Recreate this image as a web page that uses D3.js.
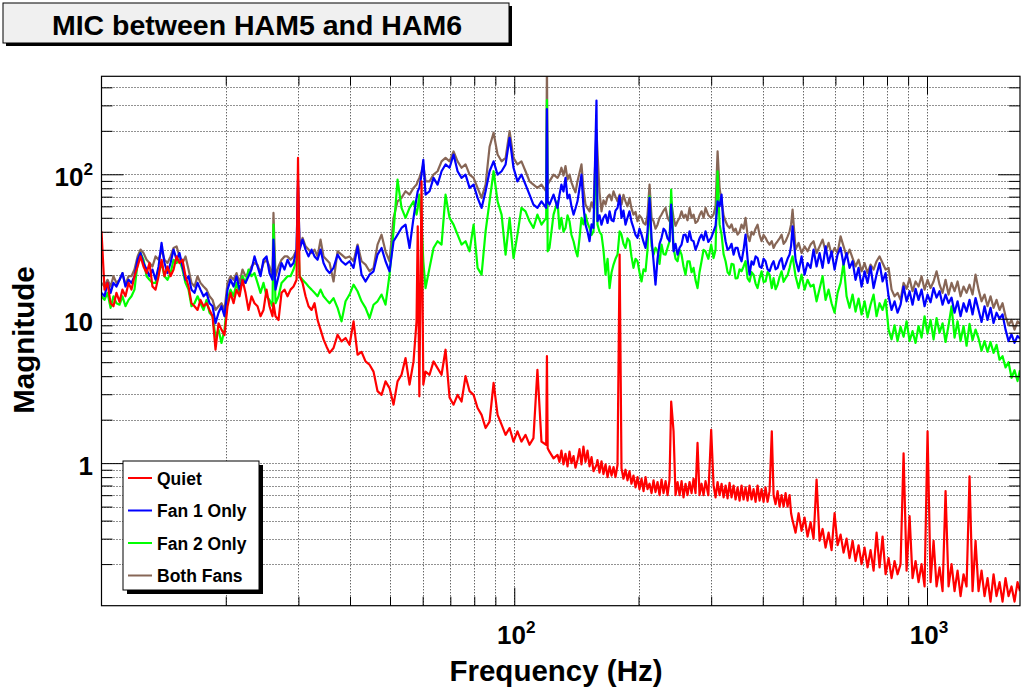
<!DOCTYPE html>
<html>
<head>
<meta charset="utf-8">
<script src="https://cdn.jsdelivr.net/npm/d3@7"></script>
<style>
  html, body { margin: 0; padding: 0; background: #ffffff; }
  svg { display: block; }
  text { font-family: "Liberation Sans", Arial, Helvetica, sans-serif; font-weight: bold; fill: #000; }
</style>
</head>
<body>
<svg id="chart" width="1021" height="694"></svg>
<script>
// Frequency bins (Hz) shared by all four spectra
const freqHz = [
  // 10 - 36 Hz
  10.00, 10.17, 10.34, 10.52, 10.69, 10.87, 11.06, 11.24, 11.43, 11.63, 11.82, 12.02, 12.23, 12.43, 12.64, 12.86,
  13.07, 13.29, 13.52, 13.75, 13.98, 14.21, 14.45, 14.70, 14.95, 15.20, 15.45, 15.71, 15.98, 16.25, 16.52, 16.80,
  17.09, 17.37, 17.67, 17.97, 18.27, 18.58, 18.89, 19.21, 19.53, 19.86, 20.20, 20.54, 20.89, 21.24, 21.60, 21.96,
  22.33, 22.71, 23.09, 23.48, 23.88, 24.28, 24.69, 25.11, 25.53, 25.96, 26.10, 26.40, 26.85, 27.30, 27.76, 28.23,
  28.71, 29.19, 29.69, 29.93, 30.19, 30.70, 31.22, 31.74, 32.28, 32.82, 33.38, 33.94, 34.51, 35.10, 35.69,
  // 36 - 128 Hz
  36.49, 37.32, 38.16, 39.02, 39.90, 40.80, 41.72, 42.66, 43.62, 44.61, 45.61, 46.64, 47.70, 48.77, 49.87, 51.00,
  52.15, 53.32, 54.53, 55.76, 57.01, 57.98, 58.37, 58.89, 59.62, 60.21, 60.96, 62.34, 63.75, 65.19, 66.66, 68.16,
  69.70, 71.28, 72.89, 74.53, 76.21, 77.94, 79.70, 81.50, 83.34, 85.22, 87.14, 89.11, 91.12, 93.18, 95.28, 97.43,
  99.59, 101.8, 104.1, 106.5, 108.9, 111.3, 113.8, 116.4, 119.5, 120.0, 120.5, 121.7, 124.5, 127.3,
  // 128 - 469 Hz
  128.7, 130.1, 131.6, 133.1, 134.6, 136.1, 137.6, 139.2, 140.7, 142.3,
  143.9, 145.5, 147.1, 148.8, 150.5, 152.2, 153.9, 155.6, 158.2, 159.1,
  160.9, 162.7, 164.5, 166.4, 168.3, 170.2, 172.1, 174.0, 175.9, 177.9,
  180.0, 181.9, 183.9, 186.0, 188.1, 190.2, 192.3, 194.5, 196.7, 198.9,
  201.1, 203.4, 205.7, 208.0, 210.3, 212.7, 215.1, 217.5, 219.9, 222.4,
  224.9, 227.4, 230.0, 232.6, 235.2, 237.8, 240.0, 243.2, 245.9, 248.7,
  251.5, 254.3, 257.1, 260.0, 262.9, 265.9, 268.9, 271.9, 274.9, 278.0,
  281.1, 284.3, 287.5, 290.7, 295.3, 300.0, 304.0, 307.4, 310.9, 314.4,
  317.9, 321.5, 325.1, 328.7, 332.4, 336.1, 339.9, 343.7, 347.6, 351.5,
  355.4, 359.4, 363.4, 367.5, 371.6, 375.8, 380.0, 384.3, 388.6, 393.0,
  397.4, 401.8, 406.3, 410.9, 415.5, 420.7, 424.9, 429.7, 434.5, 439.4,
  444.3, 449.3, 454.3, 459.4, 464.6, 468.5,
  // 472 - 1680 Hz
  472.4, 480.4, 488.5, 496.7, 505.1, 513.6, 522.3, 531.1, 540.1, 549.2, 558.5, 567.9, 577.5, 587.2, 597.1, 607.2,
  617.5, 627.9, 638.5, 649.2, 660.2, 671.3, 682.7, 694.2, 705.9, 717.8, 729.9, 742.3, 754.8, 767.5, 780.5, 793.7,
  807.1, 820.7, 834.5, 848.6, 862.9, 877.5, 892.3, 907.3, 922.6, 938.2, 954.0, 970.1, 986.5, 1003.1, 1020.1, 1037.3,
  1054.8, 1072.6, 1090.7, 1109.1, 1127.8, 1146.8, 1166.2, 1185.9, 1205.9, 1226.2, 1246.9, 1267.9, 1289.3, 1311.1,
  1333.2, 1355.7, 1378.5, 1401.8, 1425.4, 1449.5, 1473.9, 1498.8, 1524.1, 1549.8, 1575.9, 1602.5, 1629.5, 1657.0, 1680.0
];

// Magnitude, both fans off
const quiet = [
  40.3, 15.9, 17.7, 12.8, 12.2, 15.1, 13.1, 15.9, 14.3, 17.7, 15.9, 19.7, 23.0, 27.0, 23.0, 20.7,
  24.3, 16.7, 15.9, 19.7, 25.6, 19.7, 23.0, 19.7, 21.9, 27.0, 24.3, 25.6, 19.7, 16.7, 12.8, 12.2,
  11.5, 13.5, 12.2, 12.8, 11.5, 10.4, 6.1, 9.3, 8.4, 7.7, 12.2, 15.1, 12.8, 15.9, 14.3, 18.6,
  15.1, 11.5, 14.3, 12.8, 12.2, 10.4, 11.5, 15.9, 12.2, 10.4, 12.8, 10.4, 9.8, 15.1, 15.9, 14.3,
  15.9, 16.7, 18.6, 130, 19.7, 17.7, 14.3, 12.2, 11.5, 12.8, 9.8, 8.4, 7.2, 6.4, 5.8,
  6.27, 7.75, 6.96, 7.35, 6.6, 9.58, 5.63, 5.9, 5.06, 4.8, 4.3, 3.15, 2.97, 3.68, 3.31, 2.54,
  3.68, 4.09, 5.34, 3.5, 5.06, 9.58, 43.6, 2.90, 89.4, 3.5, 4.3, 4.09, 5.06, 4.55, 4.09, 6.10,
  2.85, 2.54, 2.97, 2.67, 4.0, 3.15, 2.97, 2.41, 2.16, 1.75, 1.94, 3.6, 2.16, 1.85, 1.57, 1.75,
  1.41, 1.66, 1.41, 1.57, 1.34, 1.49, 4.43, 1.41, 1.34, 5.5, 1.27, 1.2, 1.08, 1.14,
  1.02, 1.22, 0.98, 1.16, 0.95, 1.2, 1.0, 1.12, 0.93, 1.05,
  1.25, 0.98, 1.3, 1.02, 1.22, 0.95, 1.1, 0.88, 0.97, 1.05,
  0.86, 1.03, 0.84, 0.98, 0.8, 0.95, 0.82, 0.94, 0.8, 0.97,
  27.8, 0.92, 0.78, 0.9, 0.76, 0.88, 0.72, 0.82, 0.68, 0.8,
  0.66, 0.78, 0.64, 0.8, 0.66, 0.72, 0.62, 0.76, 0.63, 0.74,
  0.6, 0.77, 0.62, 0.75, 0.6, 0.77, 2.67, 1.66, 0.6, 0.74,
  0.6, 0.75, 0.58, 0.72, 0.6, 0.74, 0.62, 0.78, 0.62, 1.38,
  0.6, 0.72, 0.6, 0.75, 0.6, 1.7, 0.7, 0.58, 0.74, 0.6,
  0.72, 0.58, 0.7, 0.57, 0.73, 0.58, 0.7, 0.56, 0.68, 0.55,
  0.7, 0.56, 0.68, 0.55, 0.7, 0.56, 0.66, 0.54, 0.7, 0.55,
  0.66, 0.54, 0.68, 0.54, 0.64, 1.66, 0.6, 0.52, 0.64, 0.5,
  0.6, 0.5, 0.62, 0.5, 0.6, 0.45,
  0.40, 0.33, 0.45, 0.34, 0.42, 0.31, 0.39, 0.30, 0.77, 0.29, 0.35, 0.26, 0.33, 0.25, 0.45, 0.27,
  0.32, 0.24, 0.30, 0.22, 0.29, 0.21, 0.27, 0.20, 0.26, 0.19, 0.25, 0.18, 0.33, 0.19, 0.31, 0.17,
  0.22, 0.16, 0.21, 0.17, 0.20, 1.17, 0.18, 0.43, 0.16, 0.21, 0.15, 0.20, 0.14, 1.66, 0.15, 0.29,
  0.14, 0.19, 0.13, 0.64, 0.14, 0.20, 0.13, 0.18, 0.12, 0.17, 0.14, 0.81, 0.13, 0.29,
  0.13, 0.18, 0.12, 0.16, 0.11, 0.17, 0.12, 0.15, 0.11, 0.16, 0.12, 0.14, 0.11, 0.15, 0.13
];

// Magnitude, fan 1 running
const fan1Only = [
  15.1, 14.3, 17.7, 15.1, 17.7, 16.7, 18.6, 20.7, 16.7, 18.6, 17.7, 19.7, 25.6, 28.5, 24.3, 21.9,
  19.7, 21.9, 18.6, 23.0, 33.5, 24.3, 20.7, 24.3, 30.1, 25.6, 28.5, 23.0, 18.6, 19.7, 15.9, 15.1,
  17.7, 15.9, 14.3, 15.1, 12.8, 12.2, 9.3, 11.0, 12.2, 10.4, 15.9, 18.6, 16.7, 19.7, 15.9, 18.6,
  17.7, 19.7, 21.9, 27.0, 23.0, 19.7, 25.6, 27.0, 20.7, 18.6, 35.3, 15.9, 19.7, 24.3, 21.9, 25.6,
  23.0, 24.3, 30.1, 92, 30.1, 35.3, 30.1, 27.0, 30.1, 27.0, 25.6, 30.1, 24.3, 21.9, 20.7,
  22.5, 27.8, 25.0, 23.7, 25.0, 22.5, 31.7, 20.2, 18.1, 20.2, 21.3, 27.8, 30.9, 25.0, 21.3, 34.4,
  38.2, 42.5, 44.8, 30.9, 49.9, 68.6, 76.3, 80.5, 99.5, 126, 72.3, 76.3, 94.4, 84.9, 105, 117,
  111, 137, 105, 94.4, 99.5, 80.5, 84.9, 68.6, 58.5, 76.3, 105, 123, 99.5, 105, 117, 179,
  111, 89.4, 99.5, 84.9, 72.3, 61.7, 58.5, 65.0, 58.5, 283, 65.0, 61.7, 72.3, 58.5,
  72, 84.9, 76, 94.4, 68, 72.3, 60, 52.6, 58, 65.0,
  80, 99.5, 60, 44.8, 40, 34.4, 45, 42.5, 324, 47.3,
  52, 44.8, 50, 52.6, 46, 55.4, 48, 47.3, 56, 58.5,
  70.6, 49.9, 56, 44.8, 50, 55.4, 47, 42.5, 38, 36.3,
  42, 38.2, 34, 30.9, 40, 68.6, 36, 25.0, 17.2, 26,
  33, 36.3, 42, 40.3, 36, 34.4, 61.7, 29.3, 33, 27.8,
  31, 32.6, 38, 38.2, 34, 40.3, 35, 34.4, 30, 32.6,
  36, 38.2, 35, 40.3, 34, 36.3, 40.3, 44, 65.0, 60,
  72.3, 42, 34.4, 30, 30.9, 33, 27.8, 31, 30.9, 27,
  25.0, 30, 38.2, 26, 20.2, 25, 23.7, 27, 26.3, 23,
  22.5, 26, 25.0, 22, 21.3, 23.7, 25.0, 22, 22.5, 25,
  26.3, 22, 23.7, 26, 27.8, 32,
  43.6, 25.6, 21.3, 27.0, 20.2, 24.3, 22.5, 30.1, 23.0, 28.5, 22.5, 31.7, 24.3, 29.3, 21.9, 27.8,
  31.0, 23.7, 28.5, 22.5, 25.0, 18.6, 22.5, 16.7, 21.3, 17.7, 23.0, 16.3, 20.2, 24.3, 18.1, 20.7,
  14.3, 11.5, 13.2, 11.0, 12.5, 16.7, 13.2, 15.5, 12.5, 16.1, 13.5, 15.9, 12.2, 14.7, 13.0, 16.3,
  14.0, 15.5, 12.5, 14.7, 12.8, 14.0, 11.0, 13.2, 10.4, 12.8, 11.2, 13.5, 10.7, 13.9,
  11.5, 9.5, 12.2, 9.8, 11.9, 9.34, 11.0, 10.0, 10.7, 8.4, 7.0, 7.8, 6.8, 7.6, 7.3
];

// Magnitude, fan 2 running
const fan2Only = [
  14.3, 13.5, 15.1, 11.9, 14.3, 12.8, 12.5, 14.3, 12.2, 13.5, 14.3, 15.9, 24.3, 28.5, 25.6, 19.7,
  18.6, 17.7, 17.7, 20.7, 24.3, 19.7, 18.6, 20.7, 25.6, 24.3, 25.6, 21.9, 17.7, 15.9, 12.2, 12.8,
  14.3, 12.8, 11.5, 13.5, 11.0, 10.4, 7.5, 8.4, 6.8, 8.4, 13.5, 15.9, 14.3, 17.7, 15.1, 19.7,
  17.7, 21.9, 19.7, 20.7, 17.7, 15.1, 17.7, 14.3, 13.5, 12.2, 44.8, 12.8, 14.3, 17.7, 18.6, 19.7,
  19.7, 21.9, 25.6, 37.2, 19.7, 18.6, 17.7, 16.7, 15.9, 15.1, 14.3, 15.9, 14.3, 13.5, 12.8,
  13.9, 11.9, 9.58, 13.2, 14.7, 17.2, 15.5, 13.2, 11.9, 10.1, 12.5, 13.2, 14.7, 12.5, 20.2, 40.3,
  91.9, 58.5, 49.9, 58.5, 65.0, 52.6, 58.5, 72.3, 44.8, 25.0, 16.3, 22.5, 30.9, 34.4, 32.6, 72.3,
  49.9, 44.8, 38.2, 32.6, 34.4, 29.3, 44.8, 22.5, 20.2, 40.3, 65.0, 105, 65.0, 52.6, 27.8, 49.9,
  26.3, 38.2, 58.5, 55.4, 47.3, 42.5, 52.6, 44.8, 49.9, 327, 29.3, 30.9, 52.6, 65.0,
  42, 49.9, 40, 42.5, 52, 47.3, 38, 34.4, 30, 27.0,
  36, 49.9, 45, 52.6, 46, 42.5, 38, 40.3, 144, 44.8,
  40, 38.2, 30, 20.2, 26, 16.3, 21, 23.7, 26, 27.8,
  40.3, 38.2, 33, 30.9, 36, 34.4, 27, 22.5, 26, 25.0,
  21, 18.1, 22, 21.3, 30, 70.4, 32, 27.8, 31, 29.3,
  24, 32.6, 28, 27.8, 31, 34.4, 78.3, 30.9, 26, 25.0,
  30, 27.8, 23, 20.2, 25, 25.0, 21, 22.5, 18.5, 16.3,
  21, 25.0, 30, 29.3, 26, 32.6, 26.3, 30, 105, 45,
  38.2, 28, 25.0, 21, 20.2, 24, 23.7, 19, 19.1, 22,
  21.3, 23, 25.0, 19, 18.1, 21, 20.2, 17.5, 16.3, 19,
  21.3, 18, 18.1, 21, 20.2, 16.3, 19.1, 16, 17.2, 19.5,
  21.3, 18, 19.1, 20, 22.5, 25,
  27.0, 19.7, 16.3, 20.2, 15.9, 18.6, 16.7, 17.2, 13.2, 16.1, 19.7, 13.5, 15.9, 12.8, 11.0, 15.1,
  17.7, 24.3, 14.3, 11.9, 14.7, 11.2, 13.8, 10.7, 13.2, 10.2, 12.5, 14.7, 10.4, 12.8, 11.5, 13.5,
  8.4, 7.2, 9.0, 7.0, 8.8, 7.5, 9.6, 7.0, 8.2, 6.8, 8.9, 7.4, 10.4, 7.9, 9.8, 7.2,
  10.1, 8.0, 9.3, 6.9, 9.0, 12.2, 7.4, 9.6, 7.0, 8.9, 6.5, 9.2, 7.1, 8.4,
  7.3, 6.0, 7.0, 5.9, 6.9, 5.8, 6.6, 5.2, 5.5, 4.6, 5.0, 3.9, 4.4, 3.7, 4.4
];

// Magnitude, both fans running
const bothFans = [
  17.7, 16.7, 18.6, 16.7, 19.7, 17.7, 18.6, 20.7, 17.2, 19.7, 19.7, 21.9, 27.0, 30.1, 28.5, 25.6,
  24.3, 23.0, 27.0, 25.6, 30.1, 25.6, 24.3, 27.0, 30.9, 31.7, 27.0, 24.3, 27.0, 21.9, 17.7, 16.7,
  19.7, 17.7, 16.7, 15.9, 14.3, 13.5, 11.5, 12.2, 12.8, 11.5, 17.7, 19.7, 18.6, 20.7, 17.7, 21.9,
  19.7, 20.7, 23.0, 24.3, 23.6, 20.7, 24.3, 25.6, 23.0, 19.7, 54, 19.7, 23.0, 25.6, 27.0, 27.0,
  25.6, 27.0, 30.1, 83, 31.7, 36.3, 31.7, 30.1, 28.5, 30.1, 27.0, 35.3, 27.0, 25.6, 24.3,
  18.1, 29.3, 27.8, 26.3, 27.0, 25.0, 32.6, 25.0, 23.7, 21.3, 22.5, 32.6, 38.2, 29.3, 25.0, 49.9,
  65.0, 68.6, 76.3, 72.3, 80.5, 84.9, 89.4, 94.4, 105, 117, 89.4, 89.4, 99.5, 105, 123, 130,
  123, 144, 123, 111, 117, 99.5, 94.4, 80.5, 68.6, 84.9, 155, 194, 137, 123, 130, 199,
  130, 117, 123, 105, 89.4, 84.9, 80.5, 84.9, 76.3, 600, 84.9, 89.4, 99.5, 94.4,
  100, 111, 98, 114, 92, 99.5, 88, 80.5, 75, 89.4,
  102, 117, 80, 61.7, 58, 55.4, 64, 58.5, 203, 144,
  75, 55.4, 66, 61.7, 70, 72.3, 66, 76.3, 70, 65.0,
  72.3, 61.7, 72, 65.0, 60, 68.6, 58, 52.6, 55, 47.3,
  52, 49.9, 46, 44.8, 52, 84.9, 50, 47.3, 42, 44.8,
  50, 52.6, 56, 58.5, 50, 47.3, 65.0, 49.9, 44, 47.3,
  50, 55.4, 50, 52.6, 48, 58.5, 50, 52.6, 46, 47.3,
  52, 55.4, 50, 58.5, 52, 49.9, 52.6, 60, 144, 80,
  65.0, 52, 47.3, 44, 42.5, 45, 40.3, 42, 38.2, 40,
  44.8, 42, 49.9, 38, 34.4, 40, 38.2, 42, 44.8, 38,
  34.4, 38, 36.3, 34, 32.6, 34.4, 30.9, 33, 34.4, 36,
  38.2, 33, 34.4, 37, 40.3, 45,
  57, 30.1, 33.5, 28.5, 31.7, 29.3, 32.6, 34.4, 28.5, 31.7, 35.3, 29.3, 33.5, 27.8, 30.9, 28.5,
  37.2, 31.7, 27.0, 30.1, 26.3, 23.0, 25.6, 21.3, 24.3, 20.7, 23.7, 21.9, 25.0, 27.0, 24.3, 21.9,
  22.5, 15.9, 14.3, 15.1, 13.5, 17.7, 16.1, 19.0, 15.5, 18.1, 16.7, 19.7, 15.9, 18.6, 16.3, 18.1,
  21.3, 17.2, 15.1, 18.6, 14.7, 17.7, 15.5, 18.1, 14.3, 16.7, 15.1, 17.2, 14.7, 20.2,
  15.9, 13.2, 14.7, 12.2, 14.3, 11.9, 13.5, 11.5, 12.8, 10.4, 9.0, 9.8, 8.4, 9.6, 9.2
];

const seriesNames = ["Quiet", "Fan 1 Only", "Fan 2 Only", "Both Fans"];
const seriesColors = ["#ff0000", "#0000ff", "#00ff00", "#876656"];

const xMajorTicks = [100, 1000];
const xTickLabels = ["10^2", "10^3"];
const yMajorTicks = [1, 10, 100];
const yTickLabels = ["1", "10", "10^2"];

const chartTitle = "MIC between HAM5 and HAM6";
const xTitle = "Frequency (Hz)";
const yTitle = "Magnitude";

// ---- layout ----
const frame = { left: 101.5, right: 1020, top: 76.3, bottom: 605.7 };
const svg = d3.select("#chart");

const x = d3.scaleLog().domain([10, 1680]).range([frame.left, frame.right]);
const y = d3.scaleLog().domain([0.103, 477]).range([frame.bottom, frame.top]);

// ---- title box ----
const tg = svg.append("g");
tg.append("rect").attr("x", 6).attr("y", 6).attr("width", 506).attr("height", 40).attr("fill", "#000");
tg.append("rect").attr("x", 3).attr("y", 3).attr("width", 506).attr("height", 40)
  .attr("fill", "#f0f0f0").attr("stroke", "#000").attr("stroke-width", 1);
tg.append("text").attr("x", 257).attr("y", 34.5).attr("text-anchor", "middle")
  .attr("font-size", 28.5).text(chartTitle);

// ---- dotted grid at every decade subdivision ----
const xGridVals = x.ticks().filter(v => v > 10 && v < 1680);
const yGridVals = y.ticks();
const grid = svg.append("g").attr("stroke", "#000").attr("stroke-width", 1)
  .attr("stroke-dasharray", "1,2").attr("opacity", 0.85);
grid.selectAll("line.gx").data(xGridVals).join("line").attr("class", "gx")
  .attr("x1", d => Math.round(x(d)) + 0.5).attr("x2", d => Math.round(x(d)) + 0.5)
  .attr("y1", frame.top).attr("y2", frame.bottom);
grid.selectAll("line.gy").data(yGridVals).join("line").attr("class", "gy")
  .attr("y1", d => Math.round(y(d)) + 0.5).attr("y2", d => Math.round(y(d)) + 0.5)
  .attr("x1", frame.left).attr("x2", frame.right);

// ---- spectra ----
svg.append("defs").append("clipPath").attr("id", "plotArea").append("rect")
  .attr("x", frame.left).attr("y", frame.top)
  .attr("width", frame.right - frame.left).attr("height", frame.bottom - frame.top);

const spectra = [quiet, fan1Only, fan2Only, bothFans];
const drawOrder = [3, 2, 1, 0];
const line = d3.line()
  .defined(d => d != null && d > 0)
  .x((d, i) => x(freqHz[i]))
  .y(d => y(d));

const plot = svg.append("g").attr("clip-path", "url(#plotArea)");
drawOrder.forEach(k => {
  plot.append("path")
    .datum(spectra[k])
    .attr("fill", "none")
    .attr("stroke", seriesColors[k])
    .attr("stroke-width", 2.2)
    .attr("stroke-linejoin", "round")
    .attr("d", line);
});

// ---- frame and ticks ----
svg.append("rect").attr("x", frame.left).attr("y", frame.top)
  .attr("width", frame.right - frame.left).attr("height", frame.bottom - frame.top)
  .attr("fill", "none").attr("stroke", "#000").attr("stroke-width", 1.2);

const xMinor = xGridVals.filter(v => !xMajorTicks.includes(v));
const yMinor = yGridVals.filter(v => !yMajorTicks.includes(v));

function tickAxis(axisFn, scale, vals, size, transform) {
  const g = svg.append("g").attr("transform", transform)
    .call(axisFn(scale).tickValues(vals).tickSize(-size).tickFormat(() => ""));
  g.select(".domain").remove();
  g.selectAll("line").attr("stroke", "#000").attr("stroke-width", 1);
  g.selectAll("text").remove();
}
tickAxis(d3.axisBottom, x, xMinor, 9, `translate(0,${frame.bottom})`);
tickAxis(d3.axisBottom, x, xMajorTicks, 18, `translate(0,${frame.bottom})`);
tickAxis(d3.axisTop, x, xMinor, 9, `translate(0,${frame.top})`);
tickAxis(d3.axisTop, x, xMajorTicks, 18, `translate(0,${frame.top})`);
tickAxis(d3.axisLeft, y, yMinor, 11, `translate(${frame.left},0)`);
tickAxis(d3.axisLeft, y, yMajorTicks, 22, `translate(${frame.left},0)`);
tickAxis(d3.axisRight, y, yMinor, 11, `translate(${frame.right},0)`);
tickAxis(d3.axisRight, y, yMajorTicks, 22, `translate(${frame.right},0)`);

// ---- tick labels (powers of ten with superscripts) ----
function powerLabel(sel, label, size) {
  const parts = label.split("^");
  sel.append("tspan").text(parts[0]);
  if (parts.length > 1) {
    sel.append("tspan").attr("dy", -size * 0.42).attr("font-size", size * 0.66).text(parts[1]);
  }
}
xMajorTicks.forEach((v, i) => {
  const t = svg.append("text").attr("x", x(v) + 2).attr("y", frame.bottom + 38)
    .attr("text-anchor", "middle").attr("font-size", 26);
  powerLabel(t, xTickLabels[i], 26);
});
yMajorTicks.forEach((v, i) => {
  const t = svg.append("text").attr("x", 93).attr("y", y(v) + 12)
    .attr("text-anchor", "end").attr("font-size", 26);
  powerLabel(t, yTickLabels[i], 26);
});

// ---- axis titles ----
svg.append("text").attr("x", 556).attr("y", 681).attr("text-anchor", "middle")
  .attr("font-size", 29.5).text(xTitle);
svg.append("text").attr("transform", "translate(34,340) rotate(-90)")
  .attr("text-anchor", "middle").attr("font-size", 29.5).text(yTitle);

// ---- legend ----
const lg = svg.append("g");
const lx = 123, ly = 461, lw = 136, lh = 129;
lg.append("rect").attr("x", lx + 4).attr("y", ly + 4).attr("width", lw).attr("height", lh).attr("fill", "#000");
lg.append("rect").attr("x", lx).attr("y", ly).attr("width", lw).attr("height", lh)
  .attr("fill", "#fff").attr("stroke", "#000").attr("stroke-width", 1);
seriesNames.forEach((name, k) => {
  const cy = ly + 17 + k * 32.5;
  lg.append("line").attr("x1", lx + 5).attr("x2", lx + 29).attr("y1", cy).attr("y2", cy)
    .attr("stroke", seriesColors[k]).attr("stroke-width", 2);
  lg.append("text").attr("x", lx + 34).attr("y", cy + 6.5).attr("font-size", 17.5).text(name);
});
</script>
</body>
</html>
